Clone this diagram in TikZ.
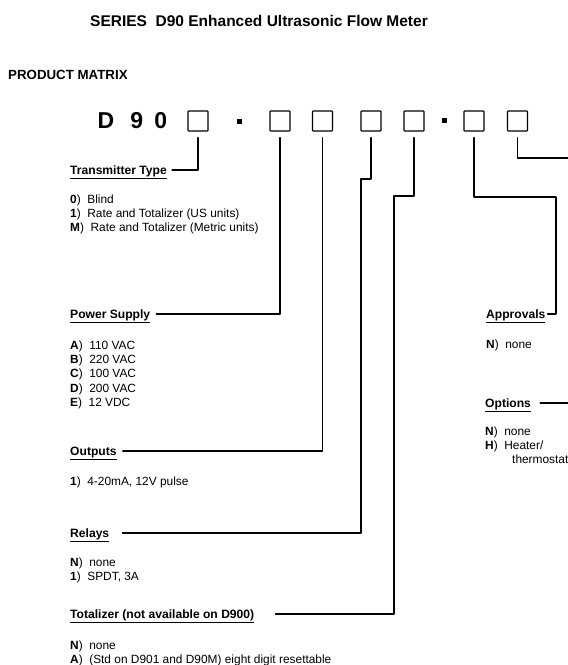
\documentclass[tikz,border=0pt]{standalone}
\usepackage{fontspec}
\setmainfont{Liberation Sans}
\usetikzlibrary{calc}
\tikzset{
  slot/.style={draw, line width=1.1pt, minimum size=20pt, inner sep=0pt, rounded corners=0.6pt},
  sepdot/.style={fill, minimum size=5pt, inner sep=0pt},
  wire/.style={draw, line width=1.2pt},
  head/.style={anchor=base west, inner sep=0pt, font=\fontsize{12.1}{14}\selectfont\bfseries},
  items/.style={anchor=north west, inner sep=0pt, align=left, font=\fontsize{11.9}{14.3}\selectfont},
  digit/.style={anchor=base, inner sep=0pt, font=\fontsize{23}{26}\selectfont\bfseries}
}
\newcommand{\hd}[1]{\underline{#1}}
\newcommand{\opt}[2]{\textbf{#1})\hspace{0.55em}#2}

\begin{document}
\begin{tikzpicture}[x=1pt, y=-1pt, line cap=round, line join=round]
  \useasboundingbox (0,0) rectangle (568,665);
  \clip (0,0) rectangle (568,665);
  \coordinate (edge) at (568,0);
  % headings
  \node[anchor=base, inner sep=0pt, font=\fontsize{15.5}{18}\selectfont\bfseries] (title) at (259,26) {SERIES\ \ D90 Enhanced Ultrasonic Flow Meter};
  \node[anchor=base west, inner sep=0pt, font=\fontsize{13.3}{16}\selectfont\bfseries] (pm) at (8,79) {PRODUCT MATRIX};
  % model code
  \node[digit] (cD) at (106,128) {D};
  \node[digit] (c9) at (136.7,128) {9};
  \node[digit] (c0) at (160.7,128) {0};
  \node[slot] (b1) at (198,121) {};
  \node[sepdot] (s1) at (239.5,121.5) {};
  \node[slot] (b2) at (280,121) {};
  \node[slot] (b3) at (322.5,121) {};
  \node[slot] (b4) at (371,121) {};
  \node[slot] (b5) at (414,121) {};
  \node[sepdot] (s2) at (444.5,120.5) {};
  \node[slot] (b6) at (474,121) {};
  \node[slot] (b7) at (517.5,121) {};
  % field headings
  \node[head] (tt) at (70,174) {\hd{Transmitter Type}};
  \node[head] (ps) at (70,318) {\hd{Power Supply}};
  \node[head] (ou) at (70,455) {\hd{Outputs}};
  \node[head] (rl) at (70,537) {\hd{Relays}};
  \node[head] (tz) at (70,618) {\hd{Totalizer (not available on D900)}};
  \node[head] (ap) at (486,318) {\hd{Approvals}};
  \node[head] (op) at (485,407) {\hd{Options}};
  % choices
  \node[items] (ttl) at (70,194.5) {\opt{0}{Blind}\\\opt{1}{Rate and Totalizer (US units)}\\\opt{M}{Rate and Totalizer (Metric units)}};
  \node[items] (psl) at (70,340.5) {\opt{A}{110 VAC}\\\opt{B}{220 VAC}\\\opt{C}{100 VAC}\\\opt{D}{200 VAC}\\\opt{E}{12 VDC}};
  \node[items] (oul) at (70,476.5) {\opt{1}{4-20mA, 12V pulse}};
  \node[items] (rll) at (70,557.5) {\opt{N}{none}\\\opt{1}{SPDT, 3A}};
  \node[items] (tzl) at (70,640.5) {\opt{N}{none}\\\opt{A}{(Std on D901 and D90M) eight digit resettable}};
  \node[items] (apl) at (486,339.5) {\opt{N}{none}};
  \node[items] (opl) at (485,426.5) {\opt{N}{none}\\\opt{H}{Heater/}\\\hspace*{27pt}thermostat};
  % leaders
  \draw[wire] ([yshift=-6pt]b1.south) |- ([xshift=5pt,yshift=4pt]tt.base east);
  \draw[wire] ([yshift=-6pt]b2.south) |- ([xshift=6pt,yshift=4pt]ps.base east);
  \draw[wire] ([yshift=-6pt]b3.south) |- ([xshift=6pt,yshift=4pt]ou.base east);
  \draw[wire] ([yshift=-6pt]b4.south) -- (b4.south |- 0,179) -- (361,179) |- ([xshift=13pt,yshift=4pt]rl.base east);
  \draw[wire] ([yshift=-6pt]b5.south) -- (b5.south |- 0,196) -- (394,196) |- ([xshift=21pt,yshift=4pt]tz.base east);
  \draw[wire] ([yshift=-6pt]b6.south) |- (556,197) |- ([xshift=2pt,yshift=4pt]ap.base east);
  \draw[wire] ([yshift=-6pt]b7.south) |- (edge |- 0,158);
  \draw[wire] ([xshift=9pt,yshift=4pt]op.base east) -- ($(op.base -| edge)+(0,4pt)$);
\end{tikzpicture}
\end{document}
